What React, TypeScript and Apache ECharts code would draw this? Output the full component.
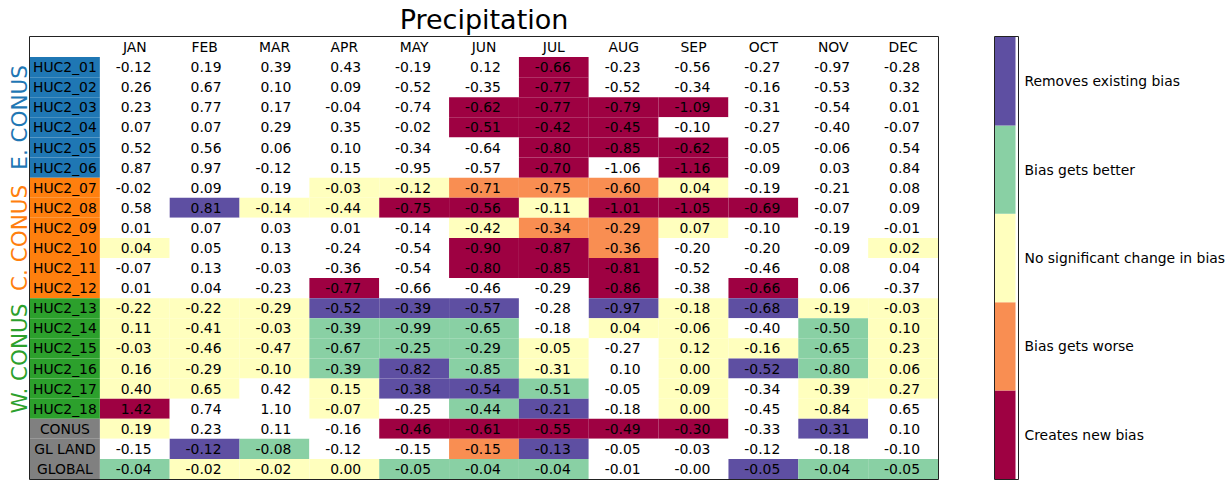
import React, { useEffect, useRef } from "react";
import * as echarts from "echarts";

const months = ["JAN", "FEB", "MAR", "APR", "MAY", "JUN", "JUL", "AUG", "SEP", "OCT", "NOV", "DEC"];

const rowLabels = [
  "HUC2_01", "HUC2_02", "HUC2_03", "HUC2_04", "HUC2_05", "HUC2_06",
  "HUC2_07", "HUC2_08", "HUC2_09", "HUC2_10", "HUC2_11", "HUC2_12",
  "HUC2_13", "HUC2_14", "HUC2_15", "HUC2_16", "HUC2_17", "HUC2_18",
  "CONUS", "GL LAND", "GLOBAL",
];

// group index per row: 0 E. CONUS, 1 C. CONUS, 2 W. CONUS, 3 aggregates
const rowGroup = [0, 0, 0, 0, 0, 0, 1, 1, 1, 1, 1, 1, 2, 2, 2, 2, 2, 2, 3, 3, 3];
const groupNames = ["E. CONUS", "C. CONUS", "W. CONUS"];
const groupColors = ["#1f77b4", "#ff7f0e", "#2ca02c", "#808080"];

const values = [
  [-0.12, 0.19, 0.39, 0.43, -0.19, 0.12, -0.66, -0.23, -0.56, -0.27, -0.97, -0.28],
  [0.26, 0.67, 0.10, 0.09, -0.52, -0.35, -0.77, -0.52, -0.34, -0.16, -0.53, 0.32],
  [0.23, 0.77, 0.17, -0.04, -0.74, -0.62, -0.77, -0.79, -1.09, -0.31, -0.54, 0.01],
  [0.07, 0.07, 0.29, 0.35, -0.02, -0.51, -0.42, -0.45, -0.10, -0.27, -0.40, -0.07],
  [0.52, 0.56, 0.06, 0.10, -0.34, -0.64, -0.80, -0.85, -0.62, -0.05, -0.06, 0.54],
  [0.87, 0.97, -0.12, 0.15, -0.95, -0.57, -0.70, -1.06, -1.16, -0.09, 0.03, 0.84],
  [-0.02, 0.09, 0.19, -0.03, -0.12, -0.71, -0.75, -0.60, 0.04, -0.19, -0.21, 0.08],
  [0.58, 0.81, -0.14, -0.44, -0.75, -0.56, -0.11, -1.01, -1.05, -0.69, -0.07, 0.09],
  [0.01, 0.07, 0.03, 0.01, -0.14, -0.42, -0.34, -0.29, 0.07, -0.10, -0.19, -0.01],
  [0.04, 0.05, 0.13, -0.24, -0.54, -0.90, -0.87, -0.36, -0.20, -0.20, -0.09, 0.02],
  [-0.07, 0.13, -0.03, -0.36, -0.54, -0.80, -0.85, -0.81, -0.52, -0.46, 0.08, 0.04],
  [0.01, 0.04, -0.23, -0.77, -0.66, -0.46, -0.29, -0.86, -0.38, -0.66, 0.06, -0.37],
  [-0.22, -0.22, -0.29, -0.52, -0.39, -0.57, -0.28, -0.97, -0.18, -0.68, -0.19, -0.03],
  [0.11, -0.41, -0.03, -0.39, -0.99, -0.65, -0.18, 0.04, -0.06, -0.40, -0.50, 0.10],
  [-0.03, -0.46, -0.47, -0.67, -0.25, -0.29, -0.05, -0.27, 0.12, -0.16, -0.65, 0.23],
  [0.16, -0.29, -0.10, -0.39, -0.82, -0.85, -0.31, 0.10, 0.00, -0.52, -0.80, 0.06],
  [0.40, 0.65, 0.42, 0.15, -0.38, -0.54, -0.51, -0.05, -0.09, -0.34, -0.39, 0.27],
  [1.42, 0.74, 1.10, -0.07, -0.25, -0.44, -0.21, -0.18, 0.00, -0.45, -0.84, 0.65],
  [0.19, 0.23, 0.11, -0.16, -0.46, -0.61, -0.55, -0.49, -0.30, -0.33, -0.31, 0.10],
  [-0.15, -0.12, -0.08, -0.12, -0.15, -0.15, -0.13, -0.05, -0.03, -0.12, -0.18, -0.10],
  [-0.04, -0.02, -0.02, 0.00, -0.05, -0.04, -0.04, -0.01, -0.00, -0.05, -0.04, -0.05],
];

// 0 = no class (white); 1..5 = legend class (index into palette + 1)
const classes = [
  [0, 0, 0, 0, 0, 0, 1, 0, 0, 0, 0, 0],
  [0, 0, 0, 0, 0, 0, 1, 0, 0, 0, 0, 0],
  [0, 0, 0, 0, 0, 1, 1, 1, 1, 0, 0, 0],
  [0, 0, 0, 0, 0, 1, 1, 1, 0, 0, 0, 0],
  [0, 0, 0, 0, 0, 0, 1, 1, 1, 0, 0, 0],
  [0, 0, 0, 0, 0, 0, 1, 0, 1, 0, 0, 0],
  [0, 0, 0, 3, 3, 2, 2, 2, 3, 0, 0, 0],
  [0, 5, 3, 3, 1, 1, 3, 1, 1, 1, 0, 0],
  [0, 0, 0, 0, 0, 3, 2, 2, 3, 0, 0, 0],
  [3, 0, 0, 0, 0, 1, 1, 2, 0, 0, 0, 3],
  [0, 0, 0, 0, 0, 1, 1, 1, 0, 0, 0, 0],
  [0, 0, 0, 1, 0, 0, 0, 1, 0, 1, 0, 0],
  [3, 3, 3, 5, 5, 5, 0, 5, 3, 5, 3, 3],
  [3, 3, 3, 4, 4, 4, 0, 3, 3, 0, 4, 3],
  [3, 3, 3, 4, 4, 4, 3, 0, 3, 3, 4, 3],
  [3, 3, 3, 4, 5, 4, 3, 0, 3, 5, 4, 3],
  [3, 3, 0, 3, 5, 5, 4, 0, 3, 0, 3, 3],
  [1, 0, 0, 3, 0, 4, 5, 0, 3, 0, 3, 0],
  [3, 0, 0, 0, 1, 1, 1, 1, 1, 0, 5, 0],
  [0, 5, 4, 0, 0, 2, 5, 0, 0, 0, 0, 0],
  [4, 3, 3, 3, 4, 4, 4, 0, 0, 5, 4, 4],
];

const legendLabels = [
  "Creates new bias",
  "Bias gets worse",
  "No significant change in bias",
  "Bias gets better",
  "Removes existing bias",
];
const palette = ["#9e0142", "#f98e52", "#ffffbe", "#89d0a4", "#5e4fa2"];

const FONT = '"DejaVu Sans", sans-serif';
const CELL_FONT = '13.9px "DejaVu Sans", sans-serif';
const TABLE = { left: 30, top: 37, width: 908, height: 442 };
const CBAR = { left: 995, top: 37, width: 23, height: 442 };

function fmt(v: number): string {
  return (Object.is(v, -0) ? "-" : "") + v.toFixed(2);
}

export default function App() {
  const ref = useRef<HTMLDivElement>(null);

  useEffect(() => {
    if (!ref.current) return;
    const chart = echarts.init(ref.current, undefined, { renderer: "svg" });

    const cellData: number[][] = [];
    values.forEach((row, r) => row.forEach((v, c) => cellData.push([c + 1, r + 1, classes[r][c], v])));

    const groupData = groupNames.map((_, g) => {
      const first = rowGroup.indexOf(g);
      const last = rowGroup.lastIndexOf(g);
      return [0, first + 1, last + 1, g];
    });

    const option: any = {
      animation: false,
      backgroundColor: "#fff",
      textStyle: { fontFamily: FONT },
      grid: [
        { left: TABLE.left, top: TABLE.top, width: TABLE.width, height: TABLE.height },
        { left: CBAR.left, top: CBAR.top, width: CBAR.width, height: CBAR.height },
      ],
      xAxis: [
        { type: "category", gridIndex: 0, data: ["", ...months], show: false },
        { type: "value", gridIndex: 1, min: 0, max: 1, show: false },
      ],
      yAxis: [
        { type: "category", gridIndex: 0, data: ["", ...rowLabels], inverse: true, show: false },
        {
          type: "category",
          gridIndex: 1,
          data: legendLabels,
          position: "right",
          axisLine: { show: false },
          axisTick: { show: true, alignWithLabel: true, length: 5, lineStyle: { color: "#000", width: 1 } },
          axisLabel: { fontSize: 13.9, color: "#000", fontFamily: FONT, margin: 9 },
          splitLine: { show: false },
        },
      ],
      graphic: [
        {
          type: "text",
          x: TABLE.left + TABLE.width / 2,
          y: 19,
          style: {
            text: "Precipitation",
            font: '27px "DejaVu Sans", sans-serif',
            fill: "#000",
            align: "center",
            verticalAlign: "middle",
            textAlign: "center",
            textVerticalAlign: "middle",
          },
        },
        {
          type: "rect",
          z: 100,
          shape: { x: TABLE.left - 0.5, y: TABLE.top - 0.5, width: TABLE.width + 1, height: TABLE.height + 1 },
          style: { fill: "none", stroke: "#222", lineWidth: 1 },
        },
        {
          type: "rect",
          z: 100,
          shape: { x: CBAR.left - 0.5, y: CBAR.top - 0.5, width: CBAR.width + 1, height: CBAR.height + 1 },
          style: { fill: "none", stroke: "#222", lineWidth: 1 },
        },
      ],
      series: [
        {
          type: "custom",
          name: "cells",
          xAxisIndex: 0,
          yAxisIndex: 0,
          data: cellData,
          renderItem: (params: any, api: any) => {
            const c = api.value(0);
            const r = api.value(1);
            const cls = api.value(2);
            const p = api.coord([c, r]);
            const s = api.size([1, 1]);
            const x0 = p[0] - s[0] / 2;
            const y0 = p[1] - s[1] / 2;
            const v = values[r - 1][c - 1];
            return {
              type: "group",
              children: [
                {
                  type: "rect",
                  shape: { x: x0, y: y0, width: s[0], height: s[1] },
                  style: { fill: cls > 0 ? palette[cls - 1] : "#fff" },
                },
                {
                  type: "text",
                  style: {
                    text: fmt(v),
                    x: x0 + s[0] - 18,
                    y: p[1],
                    align: "right",
                    verticalAlign: "middle",
                    font: CELL_FONT,
                    fill: "#000",
                  },
                },
              ],
            };
          },
        },
        {
          type: "custom",
          name: "header",
          xAxisIndex: 0,
          yAxisIndex: 0,
          data: months.map((_, i) => [i + 1, 0]),
          renderItem: (params: any, api: any) => {
            const c = api.value(0);
            const p = api.coord([c, 0]);
            return {
              type: "text",
              style: {
                text: months[c - 1],
                x: p[0],
                y: p[1],
                align: "center",
                verticalAlign: "middle",
                font: CELL_FONT,
                fill: "#000",
              },
            };
          },
        },
        {
          type: "custom",
          name: "rowLabels",
          xAxisIndex: 0,
          yAxisIndex: 0,
          data: rowLabels.map((_, j) => [0, j + 1]),
          renderItem: (params: any, api: any) => {
            const r = api.value(1);
            const p = api.coord([0, r]);
            const s = api.size([1, 1]);
            const x0 = p[0] - s[0] / 2;
            const y0 = p[1] - s[1] / 2;
            const g = rowGroup[r - 1];
            const left = g < 3;
            return {
              type: "group",
              children: [
                {
                  type: "rect",
                  shape: { x: x0, y: y0, width: s[0], height: s[1] },
                  style: { fill: groupColors[g] },
                },
                {
                  type: "text",
                  style: {
                    text: rowLabels[r - 1],
                    x: left ? x0 + 3 : p[0],
                    y: p[1],
                    align: left ? "left" : "center",
                    verticalAlign: "middle",
                    font: CELL_FONT,
                    fill: "#000",
                  },
                },
              ],
            };
          },
        },
        {
          type: "custom",
          name: "groups",
          xAxisIndex: 0,
          yAxisIndex: 0,
          clip: false,
          data: groupData,
          renderItem: (params: any, api: any) => {
            const a = api.coord([0, api.value(1)]);
            const b = api.coord([0, api.value(2)]);
            const s = api.size([1, 1]);
            const g = api.value(3);
            return {
              type: "text",
              x: a[0] - s[0] / 2 - 11,
              y: (a[1] + b[1]) / 2,
              rotation: Math.PI / 2,
              style: {
                text: groupNames[g],
                x: 0,
                y: 0,
                align: "center",
                verticalAlign: "middle",
                font: '21.5px "DejaVu Sans", sans-serif',
                fill: groupColors[g],
              },
            };
          },
        },
        {
          type: "bar",
          name: "colorbar",
          xAxisIndex: 1,
          yAxisIndex: 1,
          barWidth: "100%",
          barCategoryGap: 0,
          silent: true,
          data: legendLabels.map((_, i) => ({ value: 1, itemStyle: { color: palette[i] } })),
        },
      ],
    };

    chart.setOption(option);
    return () => chart.dispose();
  }, []);

  return (
    <div
      ref={ref}
      style={{ position: "fixed", left: 0, top: 0, width: 1228, height: 481 }}
    />
  );
}
